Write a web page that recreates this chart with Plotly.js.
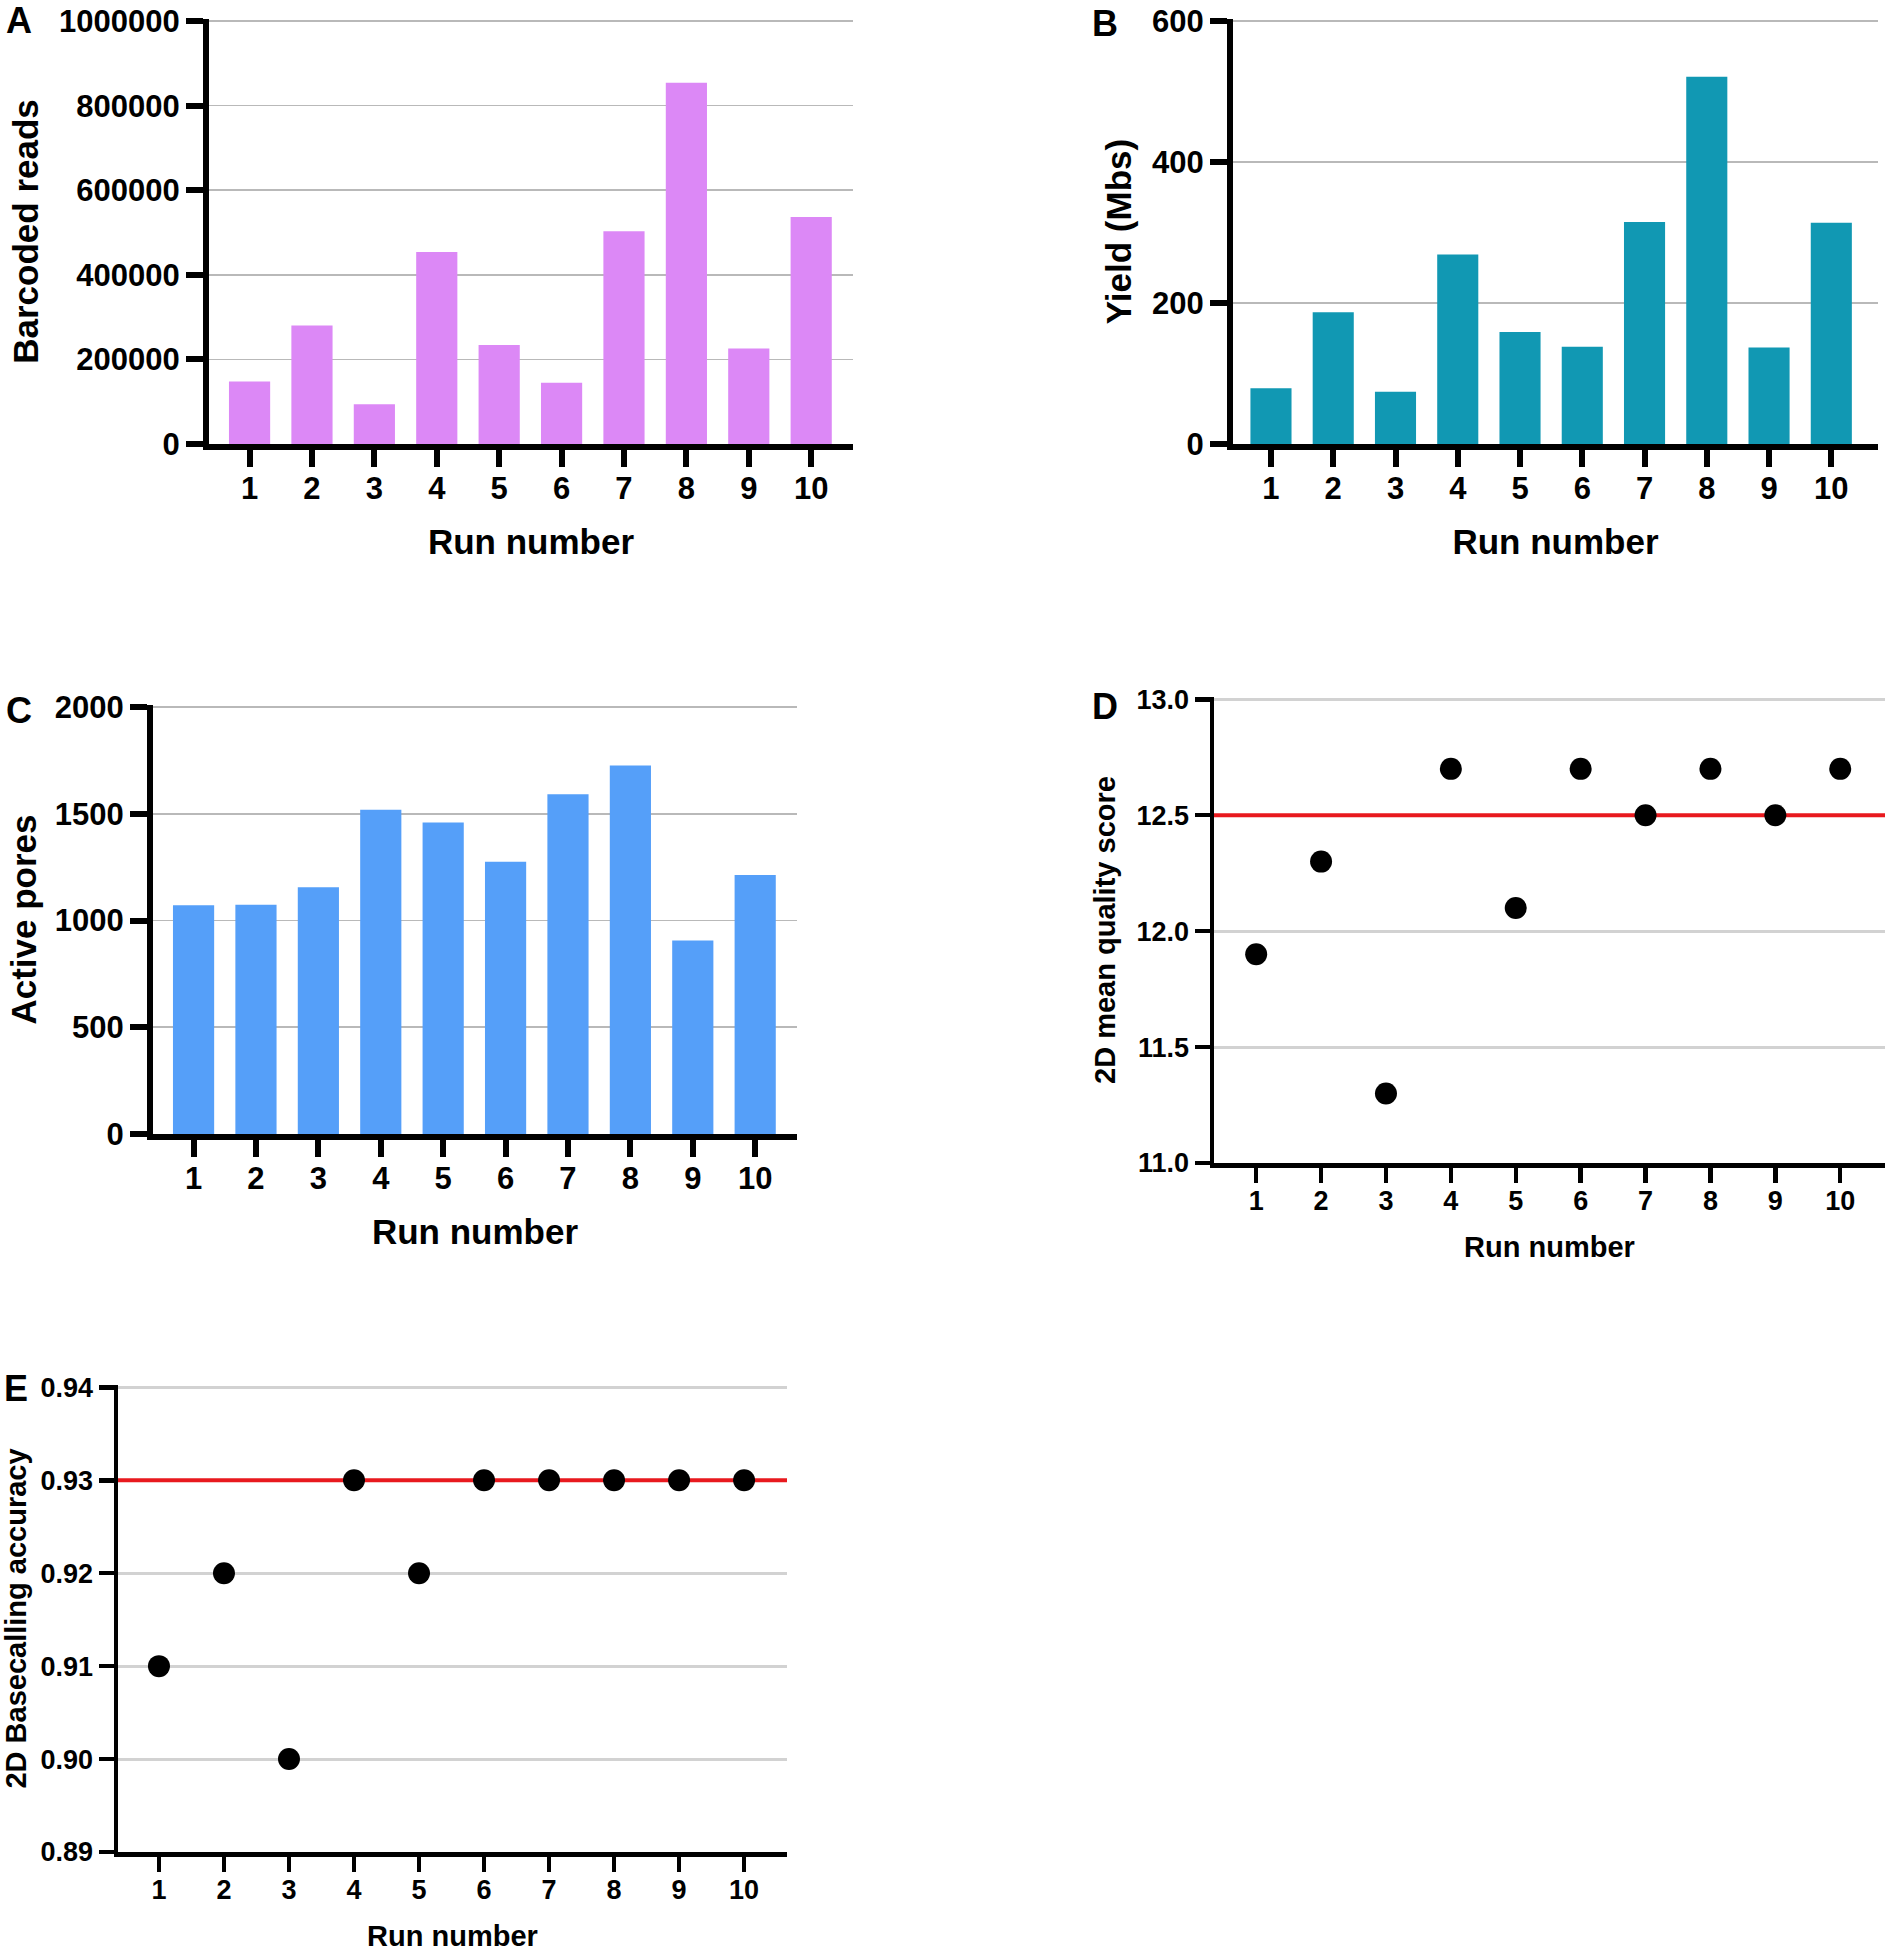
<!DOCTYPE html>
<html>
<head>
<meta charset="utf-8">
<script src="https://cdn.plot.ly/plotly-3.0.1.min.js"></script>
<style>
  html, body { margin: 0; padding: 0; background: #fff; }
  #chart { width: 1891px; height: 1952px; }
</style>
</head>
<body>
<div id="chart"></div>
<script>
// values
const runs = [1, 2, 3, 4, 5, 6, 7, 8, 9, 10];
const barcodedReads = [148000, 280000, 94000, 454000, 234000, 145000, 503000, 854000, 226000, 537000];
const yieldMbs = [79, 187, 74, 269, 159, 138, 315, 521, 137, 314];
const activePores = [1072, 1074, 1156, 1519, 1460, 1276, 1592, 1726, 907, 1213];
const meanQuality = [11.9, 12.3, 11.3, 12.7, 12.1, 12.7, 12.5, 12.7, 12.5, 12.7];
const basecallAccuracy = [0.91, 0.92, 0.90, 0.93, 0.92, 0.93, 0.93, 0.93, 0.93, 0.93];
const qualityThreshold = 12.5;
const accuracyThreshold = 0.93;

const readsTicks = [0, 200000, 400000, 600000, 800000, 1000000];
const yieldTicks = [0, 200, 400, 600];
const poresTicks = [0, 500, 1000, 1500, 2000];
const qualityTicks = [11.0, 11.5, 12.0, 12.5, 13.0];
const accuracyTicks = [0.89, 0.90, 0.91, 0.92, 0.93, 0.94];

const W = 1891, H = 1952;
const FONT = 'Liberation Sans, Arial, Helvetica, sans-serif';
const RED = '#e8191e';

// pixel box -> paper domain
const dx = (l, r) => [l / W, r / W];
const dy = (t, b) => [1 - b / H, 1 - t / H];
// nudge the top of a range a hair so plotly keeps the top gridline
const pad = (lo, hi) => [lo, hi + (hi - lo) * 0.005];

// x ranges for the dot panels (the red threshold lines span them)
const xRangeD = [0.35, 10.69];
const xRangeE = [0.37, 10.66];

// big bar panels (A-C) vs the smaller dot panels (D, E)
const heavy = { lw: 6, tl: 17, tick: 31, title: 35, grid: '#b9b9b9', gw: 1.6 };
const light = { lw: 4.5, tl: 15, tick: 27, title: 29, grid: '#d2d2d2', gw: 3 };

function xAxis(domain, anchor, range, s, standoff) {
  return {
    domain, anchor, range, type: 'linear',
    tickmode: 'array', tickvals: runs, ticktext: runs.map(String),
    showline: true, linecolor: '#000', linewidth: s.lw,
    ticks: 'outside', ticklen: s.tl, tickwidth: s.lw, tickcolor: '#000',
    ticklabelstandoff: -5, ticklabeloverflow: 'allow',
    showgrid: false, zeroline: false, fixedrange: true,
    tickfont: { family: FONT, size: s.tick, color: '#000', weight: 'bold' },
    title: { text: 'Run number', standoff, font: { family: FONT, size: s.title, color: '#000', weight: 'bold' } }
  };
}

function yAxis(domain, anchor, range, ticks, s, title, standoff, fmt) {
  return {
    domain, anchor, range,
    tickmode: 'array', tickvals: ticks, tickformat: fmt,
    showline: true, linecolor: '#000', linewidth: s.lw,
    ticks: 'outside', ticklen: s.tl, tickwidth: s.lw, tickcolor: '#000',
    ticklabeloverflow: 'allow',
    showgrid: true, gridcolor: s.grid, gridwidth: s.gw, zeroline: false, fixedrange: true,
    tickfont: { family: FONT, size: s.tick, color: '#000', weight: 'bold' },
    title: { text: title, standoff, font: { family: FONT, size: s.title, color: '#000', weight: 'bold' } }
  };
}

const dots = { color: '#000', size: 22 };
const traces = [
  { type: 'bar', x: runs, y: barcodedReads, xaxis: 'x', yaxis: 'y', marker: { color: '#dc88f6' } },
  { type: 'bar', x: runs, y: yieldMbs, xaxis: 'x2', yaxis: 'y2', marker: { color: '#1198b3' } },
  { type: 'bar', x: runs, y: activePores, xaxis: 'x3', yaxis: 'y3', marker: { color: '#559ff9' } },
  // threshold lines first so the dots sit on top of them
  { type: 'scatter', mode: 'lines', x: xRangeD, y: [qualityThreshold, qualityThreshold], xaxis: 'x4', yaxis: 'y4',
    line: { color: RED, width: 4 } },
  { type: 'scatter', mode: 'lines', x: xRangeE, y: [accuracyThreshold, accuracyThreshold], xaxis: 'x5', yaxis: 'y5',
    line: { color: RED, width: 4 } },
  { type: 'scatter', mode: 'markers', x: runs, y: meanQuality, xaxis: 'x4', yaxis: 'y4', marker: dots, cliponaxis: false },
  { type: 'scatter', mode: 'markers', x: runs, y: basecallAccuracy, xaxis: 'x5', yaxis: 'y5', marker: dots, cliponaxis: false }
];

const letter = (text, x, y) => ({
  text, x: x / W, y: 1 - y / H, xref: 'paper', yref: 'paper', xanchor: 'left', yanchor: 'top',
  showarrow: false, font: { family: FONT, size: 36, color: '#000', weight: 'bold' }
});

const layout = {
  width: W, height: H,
  margin: { l: 0, r: 0, t: 0, b: 0 },
  paper_bgcolor: '#fff', plot_bgcolor: '#fff',
  showlegend: false, bargap: 0.34, hovermode: false,
  font: { family: FONT, color: '#000' },

  xaxis:  xAxis(dx(209, 853), 'y', [0.35, 10.67], heavy, 26),
  yaxis:  yAxis(dy(19, 444), 'x', pad(0, 1000000), readsTicks, heavy, 'Barcoded reads', 12, 'd'),
  xaxis2: xAxis(dx(1233, 1878), 'y2', [0.39, 10.75], heavy, 26),
  yaxis2: yAxis(dy(19, 444), 'x2', pad(0, 600), yieldTicks, heavy, 'Yield (Mbs)', 12, 'd'),
  xaxis3: xAxis(dx(153, 797), 'y3', [0.35, 10.67], heavy, 26),
  yaxis3: yAxis(dy(705, 1134), 'x3', pad(0, 2000), poresTicks, heavy, 'Active pores', 10, 'd'),
  xaxis4: xAxis(dx(1214, 1885), 'y4', xRangeD, light, 23),
  yaxis4: yAxis(dy(697, 1163), 'x4', pad(11, 13), qualityTicks, light, '2D mean quality score', 14, '.1f'),
  xaxis5: xAxis(dx(118, 787), 'y5', xRangeE, light, 24),
  yaxis5: yAxis(dy(1385, 1852), 'x5', pad(0.89, 0.94), accuracyTicks, light, '2D Basecalling accuracy', 14, '.2f'),

  annotations: [
    letter('A', 4, -2),
    letter('B', 1090, 1),
    letter('C', 4, 688),
    letter('D', 1090, 684),
    letter('E', 2, 1366)
  ]
};

Plotly.newPlot('chart', traces, layout, { staticPlot: true, displayModeBar: false });
</script>
</body>
</html>
